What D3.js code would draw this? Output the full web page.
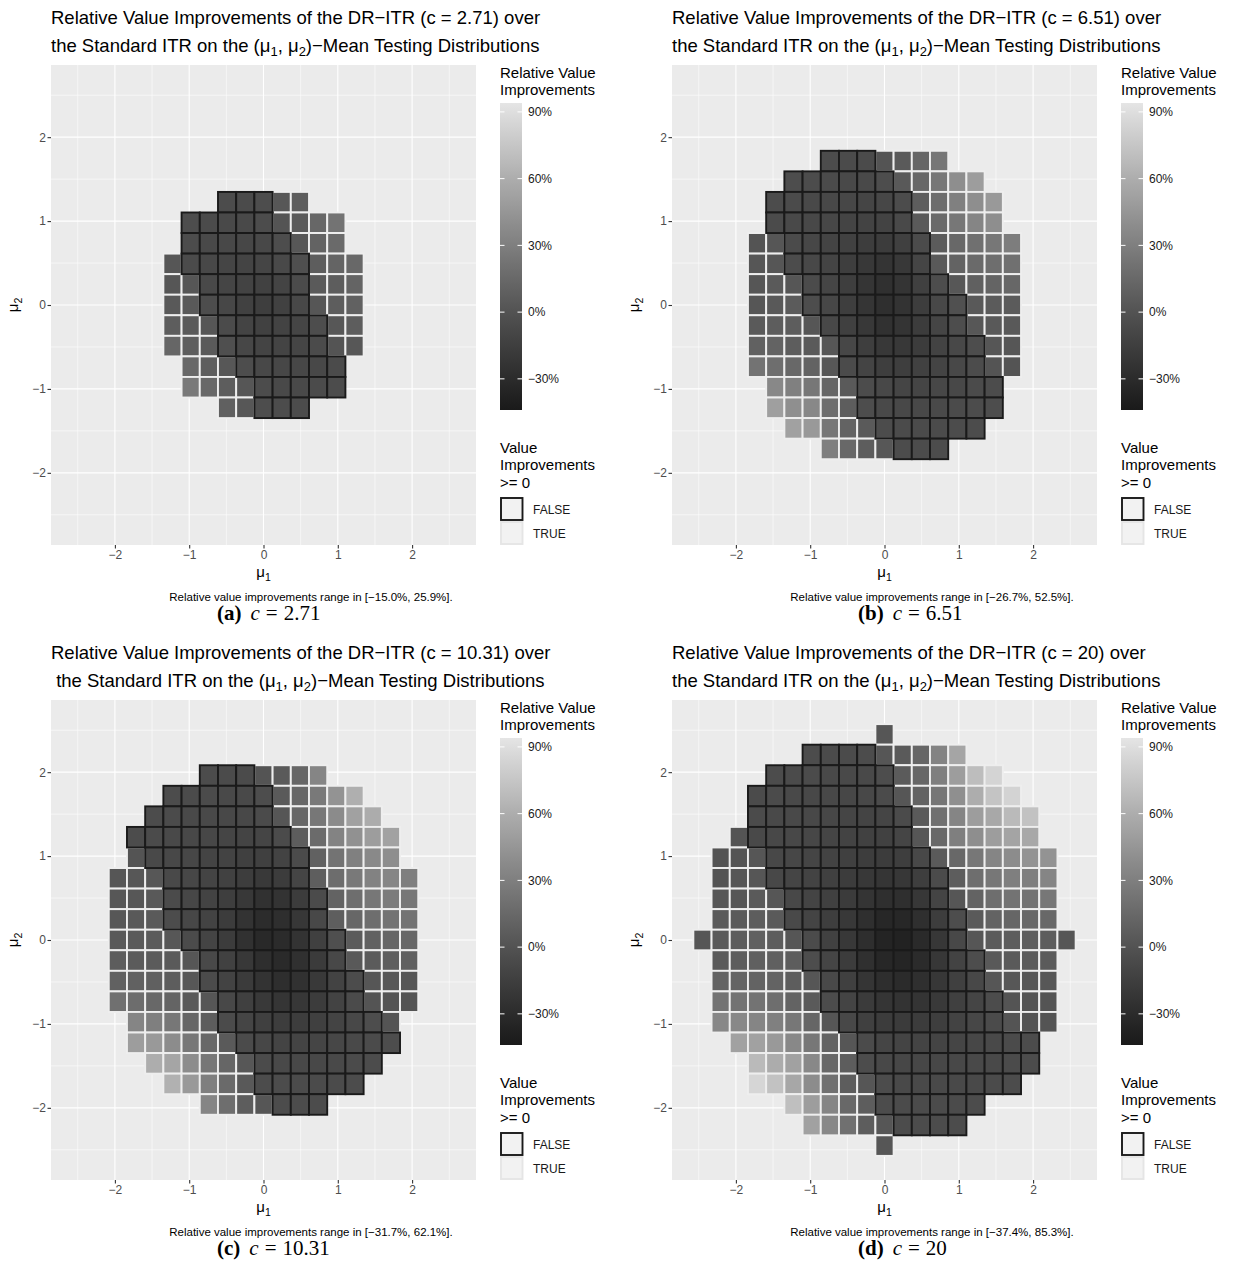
<!DOCTYPE html>
<html>
<head>
<meta charset="utf-8">
<script src="https://cdn.jsdelivr.net/npm/d3@7"></script>
<style>
  body { margin: 0; background: #fff; }
  svg text { font-family: "Liberation Sans", Arial, Helvetica, sans-serif; }
</style>
</head>
<body>
<svg id="figure" width="1233" height="1266"></svg>
<script>
// ---- data ----
const cValues = ["2.71", "6.51", "10.31", "20"];
const panelLetters = ["a", "b", "c", "d"];
const rangeLabels = ["[−15.0%, 25.9%]", "[−26.7%, 52.5%]", "[−31.7%, 62.1%]", "[−37.4%, 85.3%]"];
const axisTicks = [-2, -1, 0, 1, 2];
const minorTicks = [-2.5, -1.5, -0.5, 0.5, 1.5, 2.5];
const legendTicks = [-0.3, 0, 0.3, 0.6, 0.9];
const fillLimits = [-0.44, 0.94];
const gridStep = 0.245; // spacing of the (mu1, mu2) grid

// each row: [mu2 grid index, first mu1 grid index, relative value improvements in %]
const tilesA = [
  [5, -2, [-5, -6, -4, 3, 7]],
  [4, -4, [-4, -6, -7, -7, -5, 1, 5, 14, 22]],
  [3, -4, [-5, -7, -8, -9, -8, -4, 3, 11, 16]],
  [2, -5, [2, -6, -8, -10, -11, -10, -7, -3, 7, 12, 15]],
  [1, -5, [2, 2, -7, -10, -12, -13, -11, -6, 5, 7, 12]],
  [0, -5, [4, 4, -4, -9, -13, -15, -13, -8, 2, 7, 10]],
  [-1, -5, [7, 5, 2, -6, -11, -13, -12, -10, -4, 3, 7]],
  [-2, -5, [13, 8, 5, -3, -9, -11, -11, -10, -6, 1, 3]],
  [-3, -4, [15, 8, 3, -4, -8, -9, -9, -8, -6]],
  [-4, -4, [25.9, 15, 7, 2, -5, -7, -7, -6, -5]],
  [-5, -2, [9, 3, -4, -5, -5]]
];
const tilesB = [
  [7, -3, [-5, -6, -6, 1, 5, 13, 25]],
  [6, -5, [-4, -5, -6, -7, -7, -4, 4, 14, 25, 40, 50]],
  [5, -6, [-5, -6, -7, -8, -9, -10, -9, -5, 7, 18, 31, 40, 47]],
  [4, -6, [-6, -7, -8, -9, -11, -12, -12, -7, 5, 16, 25, 34, 40]],
  [3, -7, [1, 2, -6, -9, -11, -13, -16, -17, -14, -6, 6, 15, 20, 25, 29]],
  [2, -7, [2, 2, -5, -8, -11, -15, -20, -23, -20, -10, 4, 11, 16, 19, 20]],
  [1, -7, [2, 5, 2, -6, -10, -15, -22, -26, -23, -14, -4, 3, 9, 12, 14]],
  [0, -7, [2, 4, 6, -4, -9, -15, -22, -26.7, -24, -16, -8, -2, 4, 6, 6]],
  [-1, -7, [5, 7, 7, 2, -8, -14, -20, -25, -23, -17, -10, -4, 3, 4, 4]],
  [-2, -7, [10, 11, 7, 5, 2, -9, -15, -20, -20, -17, -12, -8, -4, 2, 2]],
  [-3, -7, [22, 19, 15, 11, 3, -6, -11, -15, -15, -13, -11, -8, -5, 1, 1]],
  [-4, -6, [36, 31, 25, 13, 5, -5, -8, -10, -10, -9, -8, -6, -5]],
  [-5, -6, [51, 41, 36, 19, 7, -4, -7, -8, -8, -7, -6, -5, -4]],
  [-6, -5, [52.5, 47, 25, 11, 5, -5, -6, -6, -6, -5, -5]],
  [-7, -3, [30, 15, 7, 3, -5, -5, -5]]
];
const tilesC = [
  [8, -3, [-5, -6, -6, 1, 5, 13, 34]],
  [7, -5, [-5, -6, -6, -7, -7, -4, 5, 14, 26, 43, 61]],
  [6, -6, [-5, -6, -7, -7, -8, -8, -6, 2, 14, 25, 38, 52, 59]],
  [5, -7, [-5, -6, -7, -8, -9, -10, -11, -10, -6, 7, 17, 33, 42, 50, 53]],
  [4, -7, [1, -7, -8, -9, -11, -12, -14, -14, -12, -6, 10, 22, 31, 37, 40]],
  [3, -8, [2, 3, 3, -7, -9, -11, -13, -16, -19, -17, -10, 8, 18, 26, 32, 35, 30]],
  [2, -8, [3, 3, 4, -6, -9, -12, -15, -20, -25, -24, -17, -6, 11, 19, 25, 28, 25]],
  [1, -8, [3, 4, 5, -5, -9, -12, -17, -24, -29, -28, -21, -8, 8, 14, 19, 22, 22]],
  [0, -8, [4, 5, 6, 3, -6, -11, -17, -25, -31.7, -30, -24, -14, -3, 6, 10, 13, 14]],
  [-1, -8, [7, 6, 6, 5, 2, -7, -13, -20, -28, -31, -26, -18, -8, 4, 6, 8, 9]],
  [-2, -8, [10, 10, 9, 7, 3, -6, -12, -18, -24, -28, -25, -19, -12, -5, 2, 3, 2]],
  [-3, -8, [20, 18, 15, 12, 5, 2, -8, -14, -19, -22, -21, -17, -12, -6, 1, 1, 1]],
  [-4, -7, [34, 30, 25, 13, 7, -6, -10, -14, -16, -16, -14, -11, -8, -4, 1]],
  [-5, -7, [50, 47, 39, 25, 15, 5, -6, -9, -11, -11, -10, -9, -7, -6, -4]],
  [-6, -6, [60, 55, 39, 25, 13, 3, -6, -7, -8, -8, -7, -6, -5]],
  [-7, -5, [62.1, 47, 30, 16, 4, -5, -5, -6, -6, -6, -5]],
  [-8, -3, [34, 19, 7, 2, -5, -5, -5]]
];
const tilesD = [
  [10, 0, [2]],
  [9, -4, [-5, -6, -6, -5, 2, 5, 13, 33, 55]],
  [8, -6, [-5, -6, -6, -7, -7, -7, -4, 6, 14, 30, 50, 70, 84]],
  [7, -7, [-6, -6, -7, -8, -8, -9, -8, -6, 2, 11, 24, 41, 60, 74, 83]],
  [6, -7, [-6, -7, -7, -8, -9, -10, -11, -10, -6, 5, 20, 34, 50, 57, 68, 73]],
  [5, -8, [1, -7, -8, -8, -9, -10, -12, -13, -13, -10, 2, 15, 30, 40, 50, 54, 57]],
  [4, -9, [1, 1, 2, -8, -9, -10, -12, -14, -16, -17, -15, -8, 5, 15, 25, 34, 39, 43, 43]],
  [3, -9, [1, 2, 2, -8, -10, -12, -14, -17, -20, -22, -21, -15, -6, 7, 19, 25, 30, 30, 34]],
  [2, -9, [2, 2, 5, 2, -8, -11, -14, -18, -23, -27, -27, -21, -11, 2, 11, 19, 22, 22, 25]],
  [1, -9, [5, 5, 7, 5, -7, -11, -15, -20, -27, -33, -33, -27, -16, -4, 5, 11, 13, 15, 15]],
  [0, -10, [2, 5, 7, 9, 7, 2, -6, -13, -20, -28, -36, -37.4, -31, -21, -8, 2, 6, 7, 7, 7, 2]],
  [-1, -9, [5, 7, 9, 9, 7, -4, -10, -17, -26, -33, -35, -30, -21, -12, -4, 4, 5, 6, 6]],
  [-2, -9, [11, 12, 11, 11, 7, 2, -7, -14, -22, -28, -30, -27, -21, -14, -8, 2, 3, 3, 3]],
  [-3, -9, [22, 22, 22, 19, 11, 5, -5, -11, -18, -22, -24, -23, -19, -14, -10, -5, 1, 1, 1]],
  [-4, -9, [36, 36, 34, 31, 25, 13, 2, -8, -14, -17, -18, -17, -15, -12, -9, -6, 1, 1, 1]],
  [-5, -8, [52, 52, 47, 36, 25, 11, 2, -6, -10, -11, -11, -11, -10, -9, -7, -6, -5]],
  [-6, -7, [68, 59, 52, 36, 15, 7, -5, -8, -9, -9, -9, -8, -7, -7, -6, -5]],
  [-7, -7, [85.3, 73, 56, 39, 20, 7, 2, -5, -7, -7, -7, -7, -7, -6, -5]],
  [-8, -5, [71, 50, 34, 15, 7, -5, -6, -6, -6, -6, -5]],
  [-9, -4, [52, 36, 20, 7, 2, -5, -5, -5, -5]],
  [-10, 0, [2]]
];
const panelTiles = [tilesA, tilesB, tilesC, tilesD];
const titleLeadSpace = ["", "", " ", ""];

// ---- layout ----
const size = { left: 51, top: 65, width: 425, height: 480, legendX: 500 };
const offsets = [[0, 0], [621, 0], [0, 635], [621, 635]];
const subcaptionX = [217, 858, 217, 858];
const svg = d3.select("#figure");

const x = d3.scaleLinear().domain([-2.86, 2.86]).range([size.left, size.left + size.width]);
const y = d3.scaleLinear().domain([-2.86, 2.86]).range([size.top + size.height, size.top]);
const fill = d3.scaleLinear().domain(fillLimits).range(["#1a1a1a", "#e5e5e5"]).interpolate(d3.interpolateLab);
const legendY = d3.scaleLinear().domain(fillLimits).range([410, 103]);
const minus = s => String(s).replace("-", "−");

const defs = svg.append("defs");
const grad = defs.append("linearGradient").attr("id", "barGrad")
  .attr("x1", 0).attr("y1", 1).attr("x2", 0).attr("y2", 0);
d3.range(0, 1.0001, 0.05).forEach(t => {
  grad.append("stop").attr("offset", t)
    .attr("stop-color", fill(fillLimits[0] + t * (fillLimits[1] - fillLimits[0])));
});

// text with mu subscripts: parts = [[text, isSub], ...]
function richText(sel, parts, subSize, shift) {
  let down = false;
  parts.forEach(([t, sub]) => {
    const ts = sel.append("tspan").text(t);
    if (sub && !down) { ts.attr("dy", shift).style("font-size", subSize + "px"); down = true; }
    else if (sub) { ts.style("font-size", subSize + "px"); }
    else if (down) { ts.attr("dy", -shift); down = false; }
  });
}

panelTiles.forEach((rows, p) => {
  const g = svg.append("g").attr("transform", `translate(${offsets[p][0]},${offsets[p][1]})`);

  // titles
  g.append("text").attr("x", size.left).attr("y", 23.5).style("font-size", "18.5px").attr("fill", "#000")
    .text(`Relative Value Improvements of the DR−ITR (c = ${cValues[p]}) over`);
  const t2 = g.append("text").attr("x", size.left).attr("y", 51.8).style("font-size", "18.5px")
    .style("white-space", "pre").attr("fill", "#000");
  richText(t2, [[titleLeadSpace[p] + "the Standard ITR on the (", false], ["μ", false], ["1", true],
    [", ", false], ["μ", false], ["2", true], [")−Mean Testing Distributions", false]], 13, 4.5);

  // panel background and grid
  g.append("rect").attr("x", size.left).attr("y", size.top).attr("width", size.width).attr("height", size.height)
    .attr("fill", "#ebebeb");
  minorTicks.forEach(v => {
    g.append("line").attr("x1", x(v)).attr("x2", x(v)).attr("y1", size.top).attr("y2", size.top + size.height)
      .attr("stroke", "#fff").attr("stroke-width", 0.55);
    g.append("line").attr("y1", y(v)).attr("y2", y(v)).attr("x1", size.left).attr("x2", size.left + size.width)
      .attr("stroke", "#fff").attr("stroke-width", 0.55);
  });
  axisTicks.forEach(v => {
    g.append("line").attr("x1", x(v)).attr("x2", x(v)).attr("y1", size.top).attr("y2", size.top + size.height)
      .attr("stroke", "#fff").attr("stroke-width", 1.1);
    g.append("line").attr("y1", y(v)).attr("y2", y(v)).attr("x1", size.left).attr("x2", size.left + size.width)
      .attr("stroke", "#fff").attr("stroke-width", 1.1);
  });

  // tiles
  const tiles = [];
  rows.forEach(([j, i0, vals]) => vals.forEach((v, k) => {
    tiles.push({ mu1: (i0 + k) * gridStep, mu2: j * gridStep, value: v / 100 });
  }));
  tiles.sort((a, b) => (a.value < 0) - (b.value < 0)); // dark outlines on top
  const w = x(gridStep) - x(0), h = y(0) - y(gridStep);
  g.selectAll("rect.tile").data(tiles).enter().append("rect").attr("class", "tile")
    .attr("x", d => x(d.mu1) - w / 2).attr("y", d => y(d.mu2) - h / 2)
    .attr("width", w).attr("height", h)
    .attr("fill", d => fill(d.value))
    .attr("stroke", d => d.value < 0 ? "#1a1a1a" : "#eeeeee")
    .attr("stroke-width", 1.9);

  // axes
  const xAxis = g.append("g").attr("transform", `translate(0,${size.top + size.height})`)
    .call(d3.axisBottom(x).tickValues(axisTicks).tickSize(3.5).tickPadding(1.5).tickFormat(minus));
  const yAxis = g.append("g").attr("transform", `translate(${size.left},0)`)
    .call(d3.axisLeft(y).tickValues(axisTicks).tickSize(3.5).tickPadding(1.5).tickFormat(minus));
  [xAxis, yAxis].forEach(a => {
    a.select(".domain").remove();
    a.attr("font-family", null).attr("font-size", null);
    a.selectAll("line").attr("stroke", "#333").attr("stroke-width", 1.1);
    a.selectAll("text").attr("fill", "#4d4d4d").style("font-size", "12px");
  });

  const xl = g.append("text").attr("x", x(0)).attr("y", 577).attr("text-anchor", "middle").style("font-size", "15px");
  richText(xl, [["μ", false], ["1", true]], 10.5, 3.5);
  const yl = g.append("text").attr("transform", `translate(18,${y(0)}) rotate(-90)`).attr("text-anchor", "middle")
    .style("font-size", "15px");
  richText(yl, [["μ", false], ["2", true]], 10.5, 3.5);

  // colour bar legend
  g.append("text").attr("x", size.legendX).attr("y", 78).style("font-size", "15px").text("Relative Value");
  g.append("text").attr("x", size.legendX).attr("y", 94.5).style("font-size", "15px").text("Improvements");
  g.append("rect").attr("x", size.legendX).attr("y", legendY(fillLimits[1])).attr("width", 22)
    .attr("height", legendY(fillLimits[0]) - legendY(fillLimits[1])).attr("fill", "url(#barGrad)");
  legendTicks.forEach(v => {
    g.append("line").attr("x1", size.legendX).attr("x2", size.legendX + 4.5).attr("y1", legendY(v)).attr("y2", legendY(v))
      .attr("stroke", "#fff").attr("stroke-width", 1);
    g.append("line").attr("x1", size.legendX + 17.5).attr("x2", size.legendX + 22).attr("y1", legendY(v)).attr("y2", legendY(v))
      .attr("stroke", "#fff").attr("stroke-width", 1);
    g.append("text").attr("x", size.legendX + 28).attr("y", legendY(v) + 4.3).style("font-size", "12px")
      .attr("fill", "#1a1a1a").text(minus(Math.round(v * 100)) + "%");
  });

  // outline legend
  ["Value", "Improvements", ">= 0"].forEach((s, k) => {
    g.append("text").attr("x", size.legendX).attr("y", 452.5 + k * 17.5).style("font-size", "15px").text(s);
  });
  [["FALSE", "#1a1a1a"], ["TRUE", "#e5e5e5"]].forEach(([lab, col], k) => {
    g.append("rect").attr("x", size.legendX + 1).attr("y", 498 + k * 24).attr("width", 21.5).attr("height", 22)
      .attr("fill", "#f2f2f2").attr("stroke", col).attr("stroke-width", 1.9);
    g.append("text").attr("x", size.legendX + 33).attr("y", 513.5 + k * 24).style("font-size", "12px")
      .attr("fill", "#1a1a1a").text(lab);
  });

  // caption
  g.append("text").attr("x", 311).attr("y", 601).attr("text-anchor", "middle").style("font-size", "11.5px")
    .text(`Relative value improvements range in ${rangeLabels[p]}.`);

  // sub-figure caption
  const sc = svg.append("text").attr("x", subcaptionX[p]).attr("y", offsets[p][1] + 620)
    .style("font-family", "'Liberation Serif', 'DejaVu Serif', serif").style("font-size", "21px");
  sc.append("tspan").style("font-weight", "bold").text(`(${panelLetters[p]})`);
  sc.append("tspan").attr("dx", 9).style("font-style", "italic").text("c");
  sc.append("tspan").attr("dx", 6).text("=");
  sc.append("tspan").attr("dx", 6).text(cValues[p]);
});
</script>
</body>
</html>
